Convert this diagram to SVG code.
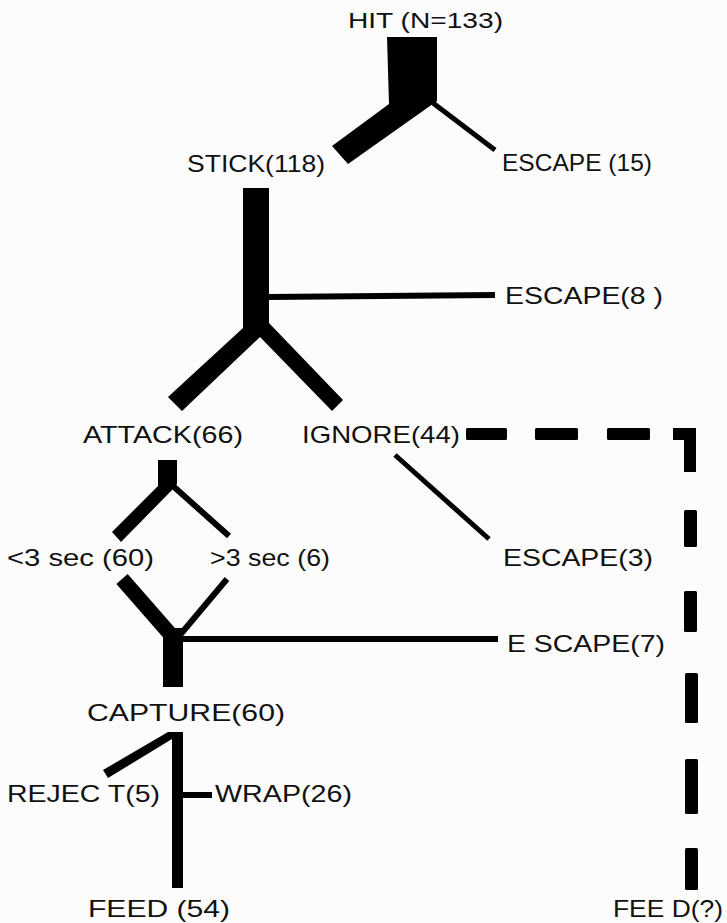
<svg xmlns="http://www.w3.org/2000/svg" width="727" height="923" viewBox="0 0 727 923">
  <style>
    .lbl { font-family: "Liberation Sans", Arial, sans-serif; font-size: 24px; fill: #111; }
    .bar { fill: #000; }
    .thin { stroke: #000; fill: none; stroke-linecap: butt; }
    .dash { fill: #000; }
  </style>
  <rect width="727" height="923" fill="#fcfcfc"/>

  <!-- branching flow shapes -->
  <g id="connectors">
    <!-- HIT splits into STICK / ESCAPE -->
    <polygon class="bar" points="387,37 437,37 437,101 348,164 332,146 389,104"/>
    <line class="thin" stroke-width="5" x1="433" y1="103" x2="495" y2="150"/>

    <!-- STICK splits into ATTACK / IGNORE, with ESCAPE side branch -->
    <polygon class="bar" points="243,188 269,188 269,323 343,400 332,411 260,337 182,411 168,397 243,328"/>
    <line class="thin" stroke-width="6" x1="268" y1="297" x2="495" y2="295"/>

    <!-- ATTACK splits by duration -->
    <polygon class="bar" points="158,460 177,460 177,484 172,490 121,542 112,532 158,486"/>
    <line class="thin" stroke-width="6" x1="173" y1="486" x2="229" y2="536"/>

    <!-- IGNORE to ESCAPE -->
    <line class="thin" stroke-width="5" x1="395" y1="455" x2="489" y2="539"/>

    <!-- durations merge into CAPTURE, with ESCAPE side branch -->
    <line class="thin" stroke-width="15" x1="122" y1="579" x2="171" y2="635"/>
    <line class="thin" stroke-width="6" x1="227" y1="579" x2="180" y2="635"/>
    <rect class="bar" x="163" y="628" width="20" height="59"/>
    <line class="thin" stroke-width="6" x1="182" y1="639" x2="498" y2="639"/>

    <!-- CAPTURE to FEED, with REJECT and WRAP -->
    <polygon class="bar" points="168,732 183,732 183,888 172,888 172,739 108,778 103,770"/>
    <line class="thin" stroke-width="6" x1="182" y1="795" x2="212" y2="795"/>

    <!-- IGNORE to FEED(?) dashed path -->
    <g id="dashed-path">
      <rect class="dash" x="466" y="428" width="41" height="12" rx="1.5"/>
      <rect class="dash" x="535" y="428" width="43" height="12" rx="1.5"/>
      <rect class="dash" x="607" y="428" width="43" height="12" rx="1.5"/>
      <path class="dash" d="M673,428 H696 V472 H684 V440 H673 Z"/>
      <rect class="dash" x="684" y="510" width="13" height="37" rx="1.5"/>
      <rect class="dash" x="684" y="591" width="13" height="41" rx="1.5"/>
      <rect class="dash" x="685" y="673" width="13" height="50" rx="1.5"/>
      <rect class="dash" x="685" y="759" width="13" height="55" rx="1.5"/>
      <rect class="dash" x="685" y="848" width="13" height="42" rx="1.5"/>
    </g>
  </g>

  <g id="hit"><text class="lbl" style="font-size:22px" x="348" y="28" textLength="155" lengthAdjust="spacingAndGlyphs">HIT (N=133)</text></g>
  <g id="stick"><text class="lbl" x="187" y="172" textLength="138" lengthAdjust="spacingAndGlyphs">STICK(118)</text></g>
  <g id="escape15"><text class="lbl" x="502" y="171" textLength="150" lengthAdjust="spacingAndGlyphs">ESCAPE (15)</text></g>
  <g id="escape8"><text class="lbl" x="505" y="304" textLength="158" lengthAdjust="spacingAndGlyphs">ESCAPE(8 )</text></g>
  <g id="attack"><text class="lbl" x="83" y="443" textLength="160" lengthAdjust="spacingAndGlyphs">ATTACK(66)</text></g>
  <g id="ignore"><text class="lbl" x="302" y="443" textLength="158" lengthAdjust="spacingAndGlyphs">IGNORE(44)</text></g>
  <g id="under3"><text class="lbl" x="7" y="566" textLength="147" lengthAdjust="spacingAndGlyphs">&lt;3 sec (60)</text></g>
  <g id="over3"><text class="lbl" x="210" y="566" textLength="120" lengthAdjust="spacingAndGlyphs">&gt;3 sec (6)</text></g>
  <g id="escape3"><text class="lbl" x="503" y="566" textLength="150" lengthAdjust="spacingAndGlyphs">ESCAPE(3)</text></g>
  <g id="escape7"><text class="lbl" x="507" y="652" textLength="158" lengthAdjust="spacingAndGlyphs">E SCAPE(7)</text></g>
  <g id="capture"><text class="lbl" x="87" y="721" textLength="198" lengthAdjust="spacingAndGlyphs">CAPTURE(60)</text></g>
  <g id="reject"><text class="lbl" x="7" y="802" textLength="153" lengthAdjust="spacingAndGlyphs">REJEC T(5)</text></g>
  <g id="wrap"><text class="lbl" x="215" y="802" textLength="137" lengthAdjust="spacingAndGlyphs">WRAP(26)</text></g>
  <g id="feed54"><text class="lbl" x="88" y="917" textLength="142" lengthAdjust="spacingAndGlyphs">FEED (54)</text></g>
  <g id="feedq"><text class="lbl" x="613" y="917" textLength="110" lengthAdjust="spacingAndGlyphs">FEE D(?)</text></g>
</svg>
